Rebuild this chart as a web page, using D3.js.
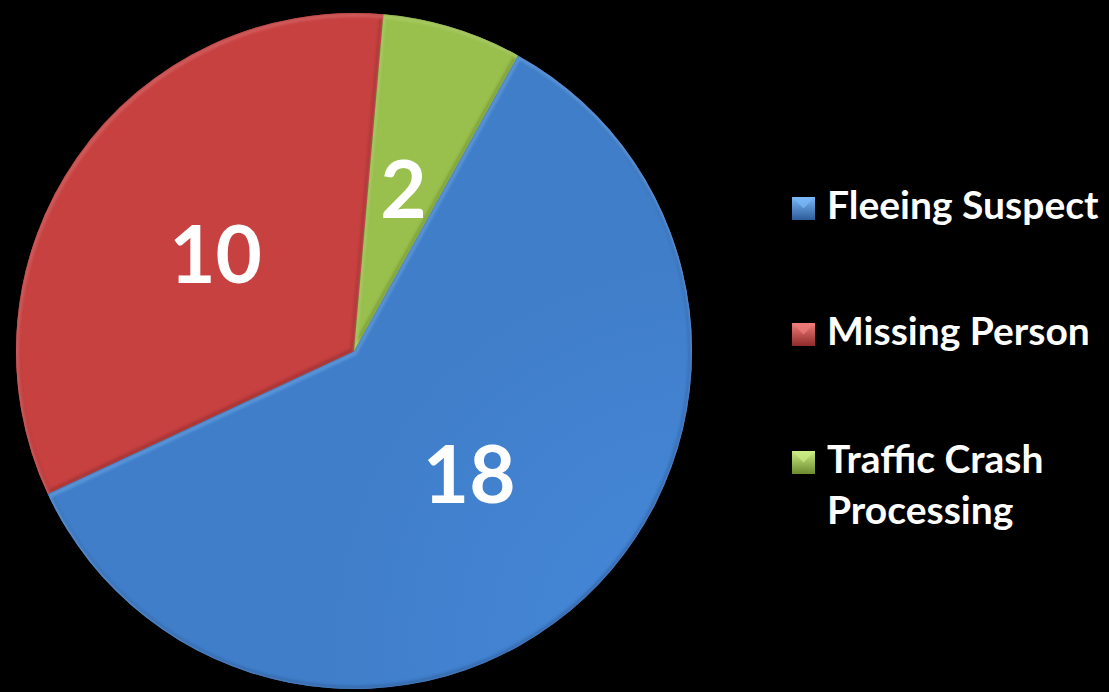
<!DOCTYPE html>
<html><head><meta charset="utf-8">
<script src="https://cdn.jsdelivr.net/npm/d3@7"></script>
<style>html,body{margin:0;padding:0;background:#000;}svg{display:block;}</style>
</head><body>
<svg id="c" width="1109" height="692"></svg>
<script>
const categories = ["Fleeing Suspect", "Missing Person", "Traffic Crash Processing"];
const legendLines = [["Fleeing Suspect"], ["Missing Person"], ["Traffic Crash", "Processing"]];
const values = [18, 10, 2];
const colors = ["#4383d2", "#d04444", "#a0c850"];
const lightColors = ["#7ab8fa", "#f07c7a", "#cbec84"];
const darkColors = ["#2d5c98", "#8e2a2a", "#6b8a2e"];

const svg = d3.select("#c");
const W = 1109, H = 692;
svg.append("rect").attr("width", W).attr("height", H).attr("fill", "#000");
const cx = 354, cy = 351, R = 338;
const startDeg = 29;

const defs = svg.append("defs");
colors.forEach((c, i) => {
  const g = defs.append("radialGradient").attr("id", "g" + i)
    .attr("gradientUnits", "userSpaceOnUse").attr("cx", cx).attr("cy", cy - 60).attr("r", R * 1.15);
  g.append("stop").attr("offset", "0%").attr("stop-color", d3.color(c).brighter(0.1));
  g.append("stop").attr("offset", "100%").attr("stop-color", d3.color(c).darker(0.12));
  const m = defs.append("linearGradient").attr("id", "m" + i).attr("x1", 0).attr("y1", 0).attr("x2", 0).attr("y2", 1);
  m.append("stop").attr("offset", "0%").attr("stop-color", lightColors[i]);
  m.append("stop").attr("offset", "100%").attr("stop-color", darkColors[i]);
});
defs.append("filter").attr("id", "blur").append("feGaussianBlur").attr("stdDeviation", 1.5);

const pie = d3.pie().sort(null).value(d => d)
  .startAngle(startDeg * Math.PI / 180).endAngle((startDeg + 360) * Math.PI / 180);
const arcs = pie(values);
const arc = d3.arc().innerRadius(0).outerRadius(R);
const labelArc = d3.arc().innerRadius(0).outerRadius(R);

const g = svg.append("g").attr("transform", `translate(${cx},${cy})`);
arcs.forEach((a, i) => {
  const p = arc(a);
  defs.append("clipPath").attr("id", "clip" + i).append("path").attr("d", p);
  const sg = g.append("g");
  sg.append("path").attr("d", p).attr("fill", `url(#g${i})`);
  const bev = sg.append("g").attr("clip-path", `url(#clip${i})`);
  bev.append("path").attr("d", p).attr("fill", "none")
    .attr("stroke", darkColors[i]).attr("stroke-width", 6).attr("filter", "url(#blur)").attr("opacity", 0.7);
  bev.append("path").attr("d", p).attr("fill", "none")
    .attr("stroke", lightColors[i]).attr("stroke-width", 4).attr("opacity", 0.6)
    .attr("transform", "translate(1,2)").attr("filter", "url(#blur)");
});

g.selectAll("text.lbl").data(arcs).enter().append("text")
  .attr("class", "lbl")
  .attr("transform", d => `translate(${labelArc.centroid(d)})`)
  .attr("text-anchor", "middle").attr("dy", "0.36em")
  .attr("fill", "#fff").attr("font-family", "Lato, 'Open Sans', sans-serif")
  .attr("font-weight", "bold").attr("font-size", 80)
  .text(d => d.data);

const leg = svg.append("g");
const rowY = [197, 323, 451];
categories.forEach((c, i) => {
  leg.append("rect").attr("x", 792).attr("y", rowY[i]).attr("width", 23).attr("height", 23)
    .attr("fill", `url(#m${i})`);
  leg.append("path")
    .attr("d", `M${792},${rowY[i]} L${815},${rowY[i]} L${803.5},${rowY[i] + 11.5} Z`)
    .attr("fill", lightColors[i]).attr("opacity", 0.7);
  const t = leg.append("text").attr("x", 827).attr("y", rowY[i] + 22)
    .attr("fill", "#fff").attr("font-family", "Lato, 'Open Sans', sans-serif")
    .attr("font-weight", "bold").attr("font-size", 39);
  legendLines[i].forEach((ln, j) => {
    t.append("tspan").attr("x", 827).attr("dy", j === 0 ? 0 : 51).text(ln);
  });
});
</script>
</body></html>
